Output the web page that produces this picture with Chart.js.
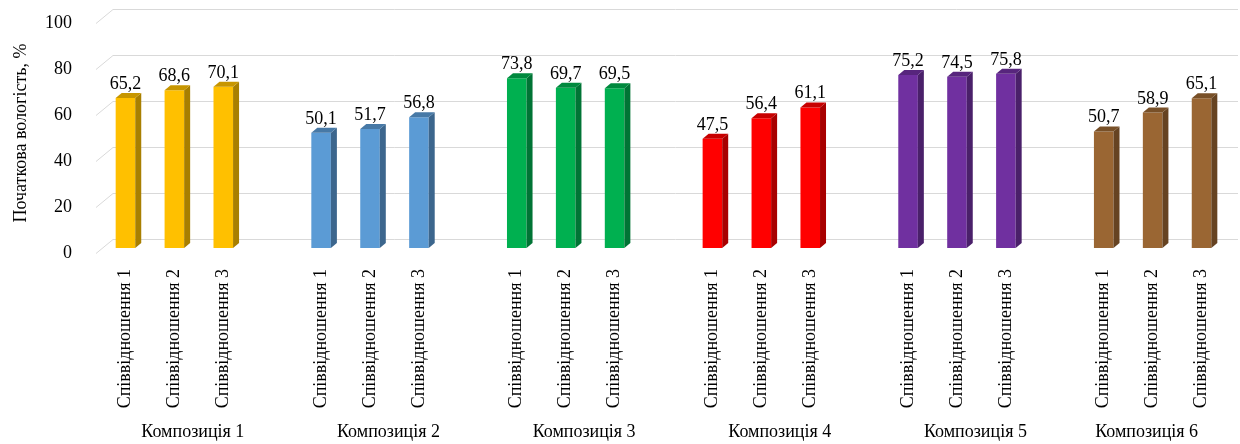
<!DOCTYPE html>
<html lang="uk">
<head>
<meta charset="utf-8">
<title>Початкова вологість</title>
<script src="https://cdn.jsdelivr.net/npm/chart.js@4/dist/chart.umd.min.js"></script>
<style>
  html, body { margin: 0; padding: 0; background: #ffffff; }
  #chart { display: block; }
</style>
</head>
<body>
<canvas id="chart" width="1240" height="444"></canvas>
<script>
// Групи (композиції) та співвідношення
const groupNames = ['Композиція 1', 'Композиція 2', 'Композиція 3', 'Композиція 4', 'Композиція 5', 'Композиція 6'];
const ratioNames = ['Співвідношення 1', 'Співвідношення 2', 'Співвідношення 3'];

// Початкова вологість, % — по композиціях
const komp1 = [65.2, 68.6, 70.1];
const komp2 = [50.1, 51.7, 56.8];
const komp3 = [73.8, 69.7, 69.5];
const komp4 = [47.5, 56.4, 61.1];
const komp5 = [75.2, 74.5, 75.8];
const komp6 = [50.7, 58.9, 65.1];
const groupValues = [komp1, komp2, komp3, komp4, komp5, komp6];

// Кольори композицій
const groupColors = ['#FFC000', '#5B9BD5', '#00B050', '#FF0000', '#7030A0', '#9A6633'];

// Вісь значень
const yMin = 0;
const yMax = 100;
const yStep = 20;

const FONT = "'Liberation Serif', 'Times New Roman', serif";

// Пласкі масиви для категорійної осі: між групами — порожній проміжок
const labels = [];
const values = [];
const colors = [];
const groupSpans = [];
groupNames.forEach((name, g) => {
  const start = labels.length;
  groupValues[g].forEach((v, i) => {
    labels.push(ratioNames[i]);
    values.push(v);
    colors.push(groupColors[g]);
  });
  if (g < groupNames.length - 1) {
    labels.push('');
    values.push(null);
    colors.push('rgba(0,0,0,0)');
  }
  groupSpans.push({ name, start, end: labels.length - 1 });
});

function shade(hex, k) {
  const n = parseInt(hex.slice(1), 16);
  const r = Math.round(((n >> 16) & 255) * k);
  const g = Math.round(((n >> 8) & 255) * k);
  const b = Math.round((n & 255) * k);
  return `rgb(${r},${g},${b})`;
}

// Глибина об'ємних стовпців та задньої стінки
const DEPTH_X = 6, DEPTH_Y = -5;
const WALL_X = 12, WALL_Y = -9;

const wallGrid = {
  id: 'wallGrid',
  beforeDatasetsDraw(chart) {
    const { ctx, chartArea, scales } = chart;
    const y = scales.y;
    ctx.save();
    ctx.strokeStyle = '#D9D9D9';
    ctx.lineWidth = 1;
    for (let v = yMin; v <= yMax; v += yStep) {
      const yf = Math.round(y.getPixelForValue(v)) + 0.5;
      ctx.beginPath();
      ctx.moveTo(chartArea.left - 5, yf + 5);
      ctx.lineTo(chartArea.left + WALL_X, yf + WALL_Y);
      ctx.lineTo(chartArea.right + WALL_X, yf + WALL_Y);
      ctx.stroke();
    }
    ctx.restore();
  }
};

const bars3d = {
  id: 'bars3d',
  afterDatasetsDraw(chart) {
    const { ctx, scales } = chart;
    const meta = chart.getDatasetMeta(0);
    ctx.save();
    meta.data.forEach((bar, i) => {
      const v = values[i];
      if (v === null) return;
      const { x, y, base, width } = bar.getProps(['x', 'y', 'base', 'width'], true);
      const l = x - width / 2, r = x + width / 2;
      const col = colors[i];
      // бічна грань
      ctx.fillStyle = shade(col, 0.66);
      ctx.beginPath();
      ctx.moveTo(r, y);
      ctx.lineTo(r + DEPTH_X, y + DEPTH_Y);
      ctx.lineTo(r + DEPTH_X, base + DEPTH_Y);
      ctx.lineTo(r, base);
      ctx.closePath();
      ctx.fill();
      // верхня грань
      ctx.fillStyle = shade(col, 0.78);
      ctx.beginPath();
      ctx.moveTo(l, y);
      ctx.lineTo(l + DEPTH_X, y + DEPTH_Y);
      ctx.lineTo(r + DEPTH_X, y + DEPTH_Y);
      ctx.lineTo(r, y);
      ctx.closePath();
      ctx.fill();
      // підпис значення
      ctx.fillStyle = '#000000';
      ctx.font = `18px ${FONT}`;
      ctx.textAlign = 'center';
      ctx.textBaseline = 'alphabetic';
      ctx.fillText(v.toFixed(1).replace('.', ','), x, y - 9);
    });

    // підписи композицій під осями
    const xs = scales.x;
    ctx.fillStyle = '#000000';
    ctx.font = `18px ${FONT}`;
    ctx.textAlign = 'center';
    ctx.textBaseline = 'alphabetic';
    groupSpans.forEach(s => {
      const cx = (xs.getPixelForValue(s.start) + xs.getPixelForValue(s.end)) / 2 - 6;
      ctx.fillText(s.name, cx, 437);
    });
    ctx.restore();
  }
};

new Chart(document.getElementById('chart'), {
  type: 'bar',
  data: {
    labels,
    datasets: [{
      data: values,
      backgroundColor: colors,
      borderWidth: 0,
      categoryPercentage: 1,
      barPercentage: 0.4
    }]
  },
  options: {
    responsive: false,
    devicePixelRatio: 1,
    animation: false,
    layout: { padding: { left: 0, right: 14, top: 18, bottom: 0 } },
    plugins: {
      legend: { display: false },
      tooltip: { enabled: false }
    },
    scales: {
      x: {
        grid: { display: false },
        border: { display: false },
        ticks: {
          autoSkip: false,
          minRotation: 90,
          maxRotation: 90,
          padding: 13,
          color: '#000000',
          font: { family: FONT, size: 18 }
        },
        afterFit(scale) { scale.height = 196; }
      },
      y: {
        min: yMin,
        max: yMax,
        grid: { display: false },
        border: { display: false },
        ticks: {
          stepSize: yStep,
          padding: 21,
          labelOffset: 5,
          color: '#000000',
          font: { family: FONT, size: 18 }
        },
        title: {
          display: true,
          text: 'Початкова вологість, %',
          color: '#000000',
          font: { family: FONT, size: 18 },
          padding: { top: 10, bottom: 0 }
        },
        afterFit(scale) {
          scale.width = 101;
          scale.paddingTop = 0;
          scale.paddingBottom = 0;
        }
      }
    }
  },
  plugins: [wallGrid, bars3d]
});
</script>
</body>
</html>
